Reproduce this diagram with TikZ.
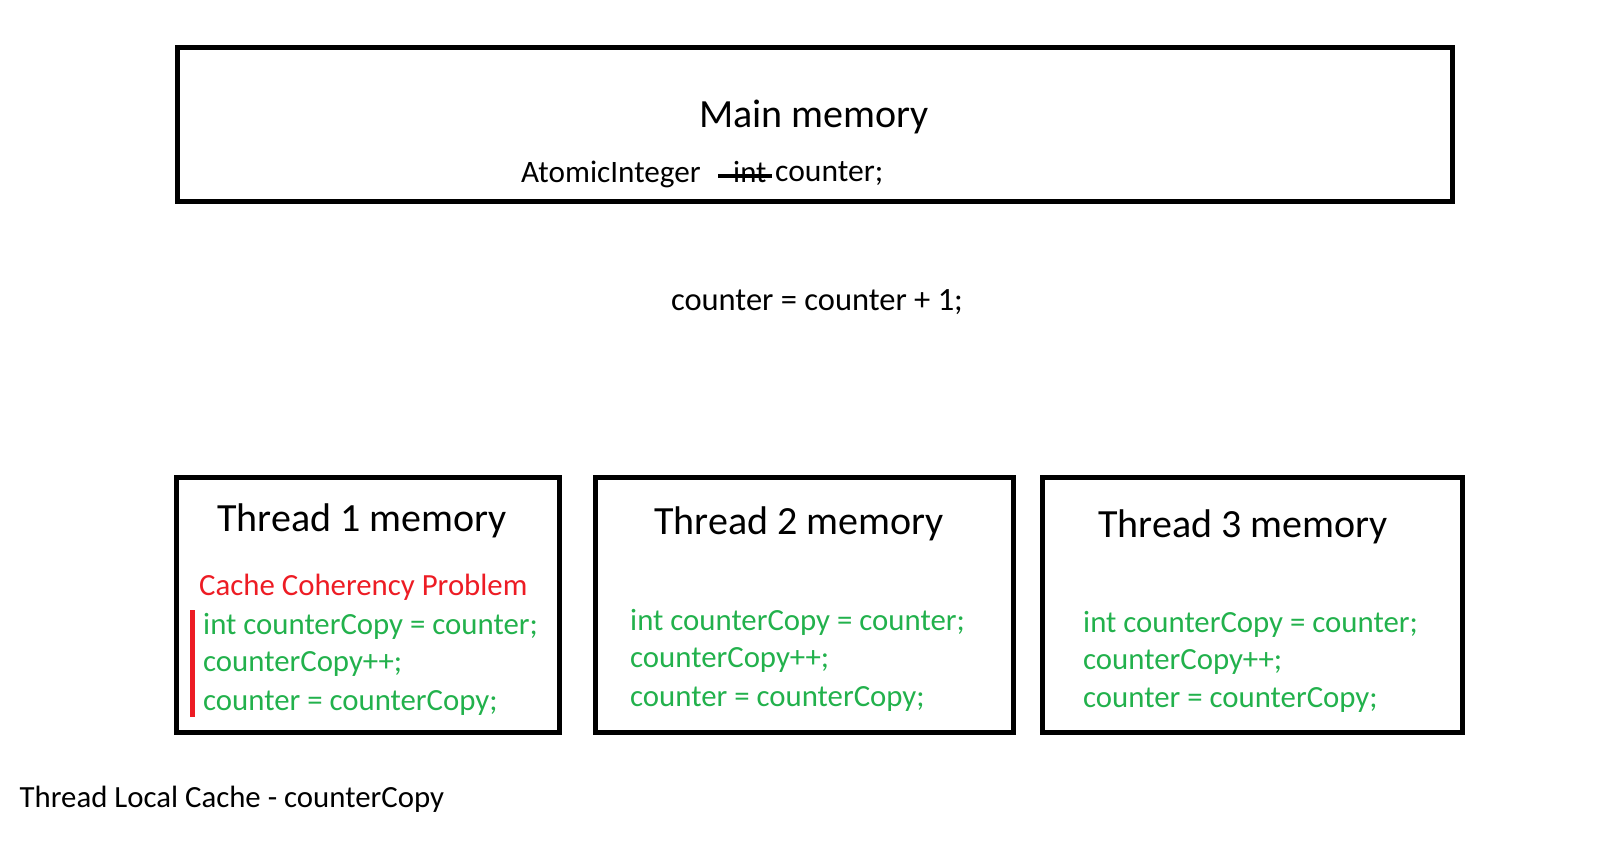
\documentclass[tikz,border=0pt]{standalone}
\usepackage{fontspec}
\setmainfont{Carlito}
\usetikzlibrary{positioning}
\definecolor{codegreen}{RGB}{34,177,76}
\definecolor{alertred}{RGB}{237,28,36}
\tikzstyle{membox} = [rectangle, draw=black, line width=5pt, minimum height=254.7pt]
\tikzstyle{title} = [inner sep=0pt, font=\fontsize{40}{48}\selectfont]
\tikzstyle{plain} = [inner sep=0pt, anchor=west, font=\fontsize{30.8}{37}\selectfont]
\tikzstyle{code} = [plain, text=codegreen]
\tikzstyle{bar} = [line width=5pt]

\begin{document}
\begin{tikzpicture}[x=1pt, y=-1pt]
\useasboundingbox (0,0) rectangle (1607,841);

% main memory
\node (main) [membox, minimum width=1275pt, minimum height=154.3pt] at (815,124.4) {};
\node (maintitle) [title] at (814,117) {Main memory};
\node (atomic) [plain, font=\fontsize{31.2}{37}\selectfont] at (521,174) {AtomicInteger};
\node (int) [plain] at (733,172) {int};
\node (counter) [plain, font=\fontsize{31.6}{38}\selectfont] at (775,174) {counter;};
\coordinate (strikeL) at (718,175.5);
\coordinate (strikeR) at (772,175.5);
\draw [bar, line width=4pt] (strikeL) -- (strikeR);

\node (update) [plain, anchor=center, font=\fontsize{32.5}{39}\selectfont] at (817,302) {counter = counter + 1;};

% thread memories
\node (t1) [membox, minimum width=383pt] at (368,604.8) {};
\node (t2) [membox, minimum width=418pt] at (804.5,604.8) {};
\node (t3) [membox, minimum width=420pt] at (1252.5,604.8) {};

\node (t1title) [title] at (362,521) {Thread 1 memory};
\node (t2title) [title] at (799,524) {Thread 2 memory};
\node (t3title) [title] at (1243,527) {Thread 3 memory};

\node (problem) [plain, text=alertred] at (199,587) {Cache Coherency Problem};
\node (t1a) [code] at (203,626) {int counterCopy = counter;};
\node (t1b) [code] at (203,664) {counterCopy++;};
\node (t1c) [code] at (203,703) {counter = counterCopy;};
\coordinate (bartop) at (192.5,610);
\coordinate (barbot) at (192.5,717);
\draw [bar, alertred] (bartop) -- (barbot);

\node (t2a) [code] at (630,622) {int counterCopy = counter;};
\node (t2b) [code] at (630,660) {counterCopy++;};
\node (t2c) [code] at (630,699) {counter = counterCopy;};

\node (t3a) [code] at (1083,624) {int counterCopy = counter;};
\node (t3b) [code] at (1083,662) {counterCopy++;};
\node (t3c) [code] at (1083,700) {counter = counterCopy;};

\node (legend) [plain] at (19.5,799) {Thread Local Cache - counterCopy};
\end{tikzpicture}
\end{document}
